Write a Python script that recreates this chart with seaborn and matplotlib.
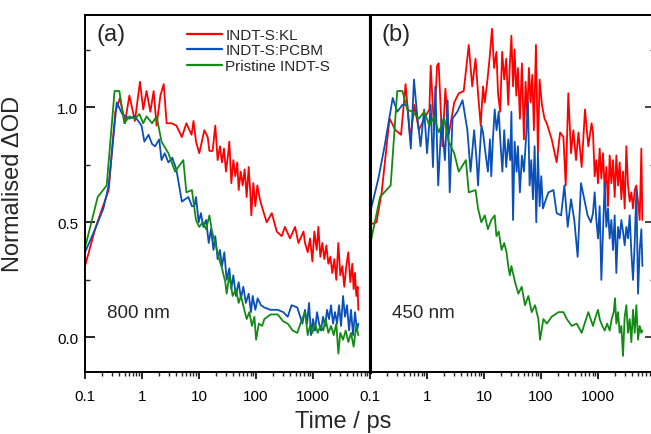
import matplotlib
matplotlib.use("Agg")
import matplotlib.pyplot as plt
import matplotlib.ticker as mticker
import seaborn as sns

# panel (a), 800 nm probe
t_kl_800 = [0.1, 0.15, 0.2, 0.26, 0.34, 0.41, 0.5, 0.6, 0.75, 0.92, 1.05, 1.2, 1.4, 1.6, 1.8,
            2.1, 2.4, 2.7, 3.3, 4.0, 5.0, 6.0, 7.4, 8.0,
            8.85, 10.1, 12.4, 14.2, 15.2, 17.3, 19.3, 21.2, 23.3, 25.3, 27.4, 29.7, 32.2, 34.0,
            36.9, 40.0, 43.3, 46.9, 49.6, 53.8, 58.3, 63.2, 68.5, 74.3, 79.4, 82.7, 89.6, 97.2,
            105.4, 117, 126, 154, 189, 231, 282, 321, 395, 485, 555, 680,
            724, 807, 886, 974, 1055, 1159, 1240, 1345, 1457, 1579, 1712, 1856, 2011, 2180,
            2363, 2561, 2776, 3009, 3262, 3535, 3832, 4154, 4502, 4880, 5153, 5440, 5740,
            6060, 6230]
kl_800 = [0.31, 0.47, 0.56, 0.64, 0.98, 1.04, 0.93, 1.05, 0.94, 1.11, 0.99, 1.07, 0.98, 1.07, 0.92,
          1.05, 1.10, 0.93, 0.93, 0.92, 0.87, 0.93, 0.88, 0.94,
          0.85, 0.80, 0.90, 0.87, 0.81, 0.81, 0.92, 0.77, 0.83, 0.76, 0.82, 0.72, 0.79, 0.85,
          0.67, 0.77, 0.70, 0.76, 0.64, 0.72, 0.66, 0.73, 0.61, 0.74, 0.63, 0.53, 0.67, 0.57,
          0.66, 0.60, 0.57, 0.50, 0.54, 0.46, 0.44, 0.48, 0.43, 0.48, 0.41, 0.46,
          0.41, 0.37, 0.43, 0.33, 0.46, 0.38, 0.48, 0.35, 0.41, 0.34, 0.40, 0.32, 0.35, 0.28,
          0.34, 0.25, 0.41, 0.27, 0.31, 0.22, 0.31, 0.37, 0.24, 0.32, 0.21, 0.28, 0.18,
          0.22, 0.12]

t_pcbm_800 = [0.1, 0.15, 0.21, 0.26, 0.36, 0.45, 0.6, 0.75, 0.98, 1.1, 1.3, 1.5, 1.7, 2.0, 2.2,
              2.5, 2.9, 3.4, 4.0, 5.0, 6.5, 7.5, 8.3,
              8.85, 9.86, 10.8, 11.9, 13.3, 14.8, 16.2, 17.9, 19.3, 21.2, 23.3, 25.3, 27.8,
              30.5, 34.0, 36.9, 40.0, 44.4, 49.6, 54.4, 59.9, 66.3, 74.3, 81.6, 87.4, 97.2,
              106.8, 122, 140, 180, 240, 300, 360, 420, 530, 650,
              724, 785, 851, 923, 1000, 1084, 1176, 1275, 1382, 1499, 1625, 1762, 1910, 2071,
              2245, 2432, 2637, 2860, 3100, 3362, 3641, 3950, 4282, 4642, 5034, 5453, 5914, 6238]
pcbm_800 = [0.37, 0.47, 0.56, 0.66, 1.02, 0.97, 0.95, 0.96, 0.92, 0.85, 0.88, 0.84, 0.83, 0.86, 0.77,
            0.80, 0.76, 0.78, 0.73, 0.59, 0.61, 0.57, 0.57,
            0.61, 0.50, 0.54, 0.48, 0.51, 0.41, 0.47, 0.38, 0.44, 0.34, 0.38, 0.31, 0.37,
            0.25, 0.30, 0.21, 0.27, 0.18, 0.24, 0.17, 0.22, 0.15, 0.19, 0.11, 0.18, 0.12,
            0.17, 0.14, 0.13, 0.12, 0.12, 0.11, 0.09, 0.14, 0.13, 0.06,
            0.12, 0.06, 0.15, 0.01, 0.08, 0.03, 0.11, 0.06, 0.03, 0.09, 0.05, 0.12, 0.08, 0.14,
            0.06, 0.11, 0.06, 0.14, 0.05, 0.18, 0.09, 0.14, 0.03, 0.12, 0.01, 0.11, 0.03, 0.06]

t_pri_800 = [0.1, 0.167, 0.24, 0.33, 0.40, 0.49, 0.6, 0.75, 0.9, 1.05, 1.2, 1.5, 1.8, 2.2, 2.9,
             3.8, 5.3, 6.0, 7.5,
             8.85, 10.1, 11.6, 13.3, 15.2, 16.9, 19.3, 22.0, 25.3, 28.9, 30.5, 34.0, 38.9,
             44.4, 49.6, 54.4, 62.3, 68.5, 76.3, 84.9, 93.6, 100.3, 111.9, 128,
             140, 180, 240, 300, 360, 440, 530, 620,
             724, 807, 886, 974, 1084, 1210, 1345, 1516, 1666, 1858, 2071, 2307, 2561, 2782,
             3009, 3362, 3738, 4166, 4642, 5153, 5740, 6238]
pri_800 = [0.39, 0.61, 0.66, 1.07, 1.07, 0.93, 0.96, 0.95, 0.97, 0.93, 0.96, 0.93, 0.96, 0.85, 0.80,
           0.72, 0.77, 0.63, 0.64,
           0.51, 0.48, 0.50, 0.47, 0.53, 0.46, 0.41, 0.35, 0.30, 0.24, 0.19, 0.27, 0.18,
           0.21, 0.15, 0.18, 0.12, 0.08, 0.11, 0.05, 0.09, -0.01, 0.06, 0.05,
           0.08, 0.10, 0.10, 0.07, 0.06, 0.03, 0.02, 0.07,
           0.11, 0.01, 0.05, 0.02, 0.06, 0.02, 0.05, 0.03, 0.08, 0.02, 0.05, 0.01, 0.06, -0.07,
           0.02, -0.01, 0.03, -0.02, 0.02, -0.04, 0.05, 0.01]

# panel (b), 450 nm probe
t_kl_450 = [0.1, 0.13, 0.16, 0.22, 0.28, 0.35, 0.42, 0.51, 0.6, 0.72, 0.89, 1.1, 1.16, 1.33, 1.5,
            1.6, 1.86, 2.1, 2.4, 3.0, 3.6, 4.4, 5.4, 6.2, 7.1,
            7.85, 8.74, 9.6, 10.3, 11.5, 12.6, 13.8, 15.0, 16.5, 17.6, 19.2, 20.8, 22.6, 24.5,
            26.6, 28.4, 30.2, 32.3, 34.4, 36.8, 39.3, 42.6, 46.2, 50.1, 53.6, 57.3, 61.3, 65.6,
            70.2, 75.0, 81.4, 88.2, 94.4, 103.7, 115,
            126, 154, 188, 216, 247, 271, 301, 336, 369, 411, 453, 516, 591, 675, 771,
            816, 873, 934, 999, 1068, 1143, 1222, 1308, 1399, 1496, 1600, 1712, 1831, 1959,
            2095, 2241, 2397, 2565, 2743, 2934, 3139, 3358, 3592, 3842, 4110, 4397, 4703,
            5031, 5382, 5757, 5995]
kl_450 = [0.49, 0.50, 0.63, 0.95, 0.90, 0.88, 1.10, 0.86, 1.01, 0.90, 0.95, 0.99, 1.18, 0.90, 1.18,
          1.19, 0.83, 1.08, 0.88, 1.02, 1.06, 1.07, 1.27, 1.09, 1.21,
          1.06, 0.92, 1.09, 1.02, 1.12, 1.22, 1.34, 1.17, 1.24, 1.06, 0.98, 1.24, 1.12, 1.21,
          1.01, 1.19, 1.31, 1.09, 1.25, 1.05, 1.17, 0.95, 1.19, 0.86, 1.11, 0.96, 1.17, 1.02,
          1.14, 0.90, 1.27, 0.80, 1.12, 1.01, 0.95,
          0.93, 0.86, 0.76, 0.89, 0.87, 0.66, 1.06, 0.80, 0.90, 0.77, 0.89, 0.74, 0.99, 0.83, 0.93,
          0.89, 0.70, 0.77, 0.67, 0.82, 0.69, 0.80, 0.64, 0.74, 0.57, 0.79, 0.67, 0.77, 0.61,
          0.79, 0.66, 0.76, 0.60, 0.72, 0.56, 0.83, 0.66, 0.59, 0.63, 0.56, 0.64, 0.66,
          0.59, 0.51, 0.82, 0.51]

t_pcbm_450 = [0.1, 0.14, 0.18, 0.25, 0.3, 0.37, 0.45, 0.52, 0.59, 0.68, 0.77, 0.89, 1.0, 1.16, 1.27,
              1.4, 1.57, 1.8, 2.06, 2.3, 2.5, 2.8, 3.4, 4.2, 5.1, 5.8, 6.7, 7.4,
              7.85, 8.4, 9.0, 9.6, 10.6, 11.7, 12.7, 13.4, 14.3, 15.4, 16.6, 18.1, 19.6, 21.0,
              22.6, 24.5, 26.6, 28.8, 30.2, 32.3, 34.4, 37.3, 39.3, 42.6, 46.2, 50.1, 54.4, 58.9,
              63.0, 67.4, 72.1, 77.2, 82.5, 88.2, 94.4, 101, 108, 122,
              135, 165, 188, 225, 257, 294, 336, 383, 439, 502, 574, 656, 750,
              816, 873, 934, 999, 1068, 1143, 1222, 1308, 1399, 1496, 1600, 1712, 1831, 1959,
              2095, 2241, 2397, 2565, 2743, 2934, 3139, 3358, 3592, 3842, 4110, 4397, 4703,
              5031, 5382, 5757, 5995]
pcbm_450 = [0.54, 0.69, 0.83, 1.04, 0.98, 1.01, 1.01, 0.82, 1.12, 0.95, 0.83, 0.99, 0.80, 1.01, 0.74,
            1.09, 0.66, 0.95, 0.77, 1.03, 0.63, 0.95, 0.98, 1.03, 0.90, 0.72, 0.90, 0.77,
            0.66, 0.80, 0.92, 0.89, 0.80, 0.72, 0.86, 0.70, 0.86, 0.99, 0.90, 0.98, 0.83, 0.72,
            0.90, 0.74, 0.86, 0.77, 0.98, 0.51, 0.85, 0.72, 0.83, 0.63, 0.79, 0.72, 0.86, 1.02,
            0.66, 0.77, 0.60, 0.83, 0.50, 0.80, 0.57, 0.70, 0.56, 0.60,
            0.63, 0.64, 0.54, 0.53, 0.66, 0.48, 0.60, 0.51, 0.35, 0.67, 0.60, 0.53, 0.50,
            0.54, 0.63, 0.51, 0.43, 0.57, 0.25, 0.46, 0.67, 0.48, 0.56, 0.43, 0.51, 0.38, 0.53,
            0.28, 0.48, 0.43, 0.51, 0.46, 0.40, 0.48, 0.43, 0.53, 0.37, 0.25, 0.41, 0.64,
            0.19, 0.38, 0.47, 0.31]

t_pri_450 = [0.1, 0.15, 0.23, 0.30, 0.37, 0.45, 0.55, 0.72, 0.89, 1.1, 1.33, 1.6, 2.0, 2.4, 3.0,
             3.6, 4.8, 5.4, 7.1,
             7.85, 8.96, 10.3, 11.7, 13.4, 15.4, 16.5, 18.1, 20.3, 22.6, 24.8, 26.6, 28.4, 30.2,
             35.0, 40.0, 45.8, 52.4, 59.9, 68.6, 78.5, 89.8, 96, 110, 126, 154, 202, 247, 283,
             346, 423, 516, 675,
             816, 909, 999, 1068, 1189, 1308, 1444, 1600, 1735, 1882, 1986, 2095, 2241, 2397,
             2565, 2743, 2934, 3139, 3358, 3592, 3842, 4110, 4397, 4703, 5031, 5382, 5757, 5995]
pri_450 = [0.40, 0.61, 0.66, 1.07, 1.07, 0.99, 0.98, 0.95, 0.98, 0.92, 0.96, 0.89, 0.95, 0.85, 0.80,
           0.72, 0.77, 0.63, 0.64,
           0.56, 0.50, 0.53, 0.47, 0.51, 0.53, 0.44, 0.46, 0.38, 0.41, 0.37, 0.31, 0.27, 0.31,
           0.24, 0.19, 0.22, 0.14, 0.18, 0.11, 0.14, 0.08, -0.01, 0.08, 0.06, 0.09, 0.11, 0.11, 0.08,
           0.05, 0.06, 0.02, 0.11,
           0.05, 0.09, 0.12, 0.08, 0.05, 0.03, 0.06, 0.03, 0.08, 0.11, 0.17, 0.06, 0.11, 0.02,
           0.05, -0.08, 0.09, 0.14, 0.02, 0.08, -0.02, 0.12, 0.02, 0.14, -0.01, 0.05, 0.02, 0.03]

labels = ["INDT-S:KL", "INDT-S:PCBM", "Pristine INDT-S"]
colors = ["#ff0000", "#0a50b8", "#138a13"]

sns.set_theme(style="white")
plt.rcParams["font.family"] = ["Liberation Sans", "DejaVu Sans"]

fig = plt.figure(figsize=(6.51, 4.35), dpi=100)
ax1 = fig.add_axes([0.1306, 0.1425, 0.4378, 0.8207])
ax2 = fig.add_axes([0.5684, 0.1425, 0.4378, 0.8207])

panel_a = [(t_kl_800, kl_800), (t_pcbm_800, pcbm_800), (t_pri_800, pri_800)]
panel_b = [(t_kl_450, kl_450), (t_pcbm_450, pcbm_450), (t_pri_450, pri_450)]

for (t, v), lab, c in zip(panel_a, labels, colors):
    sns.lineplot(x=t, y=v, ax=ax1, color=c, lw=1.3, label=lab, estimator=None)
for (t, v), c in zip(panel_b, colors):
    sns.lineplot(x=t, y=v, ax=ax2, color=c, lw=1.3, estimator=None, legend=False)

for ax in (ax1, ax2):
    ax.set_xscale("log")
    ax.set_xlim(0.1, 10000)
    ax.set_ylim(-0.15, 1.40)
    ax.set_xticks([0.1, 1, 10, 100, 1000])
    ax.xaxis.set_major_formatter(mticker.FuncFormatter(lambda x, p: f"{x:g}"))
    ax.xaxis.set_minor_locator(mticker.LogLocator(base=10, subs=range(2, 10), numticks=20))
    ax.xaxis.set_minor_formatter(mticker.NullFormatter())
    ax.set_yticks([0.0, 0.5, 1.0])
    ax.yaxis.set_minor_locator(mticker.MultipleLocator(0.25))
    for s in ax.spines.values():
        s.set_linewidth(1.4)
        s.set_color("black")
    ax.tick_params(axis="x", which="major", direction="out", length=5, width=1.2,
                   bottom=True, top=False, labelsize=11, pad=7, colors="black")
    ax.tick_params(axis="x", which="minor", direction="out", length=3, width=1.0,
                   bottom=True, top=False)
    ax.set_xlabel("")
    ax.set_ylabel("")

# shared border between the panels is drawn heavier
ax1.spines["right"].set_linewidth(2.2)
ax2.spines["left"].set_linewidth(2.2)

ax1.yaxis.set_major_formatter(mticker.FormatStrFormatter("%.1f"))
ax1.tick_params(axis="y", which="major", direction="in", length=7, width=1.2,
                left=True, right=False, labelsize=11, pad=5, colors="black")
ax1.tick_params(axis="y", which="minor", direction="in", length=3.5, width=1.0,
                left=True, right=False)
ax2.tick_params(axis="y", which="major", direction="in", length=7, width=1.2,
                left=False, right=True, labelleft=False, labelright=False)
ax2.tick_params(axis="y", which="minor", direction="in", length=3.5, width=1.0,
                left=False, right=True)

ax1.set_ylabel("Normalised \u0394OD", fontsize=17)
ax1.yaxis.set_label_coords(-0.214, 0.529)

leg = ax1.legend(loc="upper left", bbox_to_anchor=(0.358, 0.964), frameon=False,
                 fontsize=11, handlelength=2.3, handletextpad=0.2, labelspacing=0.1,
                 borderpad=0, borderaxespad=0)
for h in leg.get_lines():
    h.set_linewidth(1.6)

ax1.text(0.042, 0.947, "(a)", transform=ax1.transAxes, fontsize=17, va="center", ha="left")
ax2.text(0.039, 0.947, "(b)", transform=ax2.transAxes, fontsize=17, va="center", ha="left")
ax1.text(0.077, 0.168, "800 nm", transform=ax1.transAxes, fontsize=13.5, va="center", ha="left")
ax2.text(0.077, 0.168, "450 nm", transform=ax2.transAxes, fontsize=13.5, va="center", ha="left")

fig.text(343 / 651, 0.015, "Time / ps", fontsize=17, ha="center", va="baseline")

fig.savefig("out.png", dpi=100)
